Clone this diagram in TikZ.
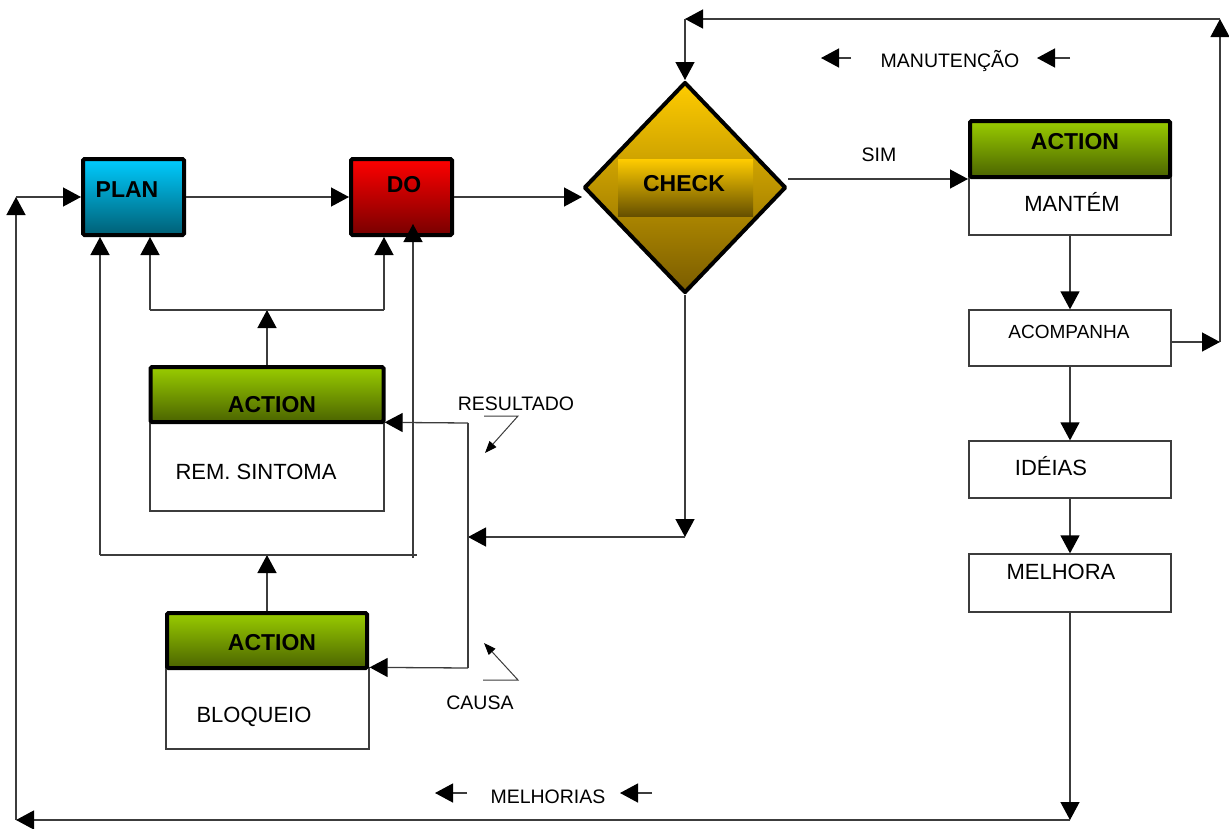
\documentclass[tikz,border=0pt]{standalone}
\usepackage{fontspec}
\setmainfont{Liberation Sans}
\usetikzlibrary{arrows.meta,shapes.geometric}
\definecolor{planTop}{HTML}{00CCFF}
\definecolor{planBot}{HTML}{005F75}
\definecolor{doTop}{HTML}{FF0000}
\definecolor{doBot}{HTML}{780000}
\definecolor{actTop}{HTML}{99CC00}
\definecolor{actBot}{HTML}{4B6400}
\definecolor{chkTop}{HTML}{FFCC00}
\definecolor{chkBot}{HTML}{7A5C00}
\definecolor{bandBot}{HTML}{665000}
\definecolor{wire}{HTML}{3C3C3C}
\begin{document}
\begin{tikzpicture}[x=1pt,y=-1pt,
  line/.style={draw=wire, line width=1.3pt},
  arr/.style={line, -{Triangle[length=18pt,width=19pt,color=black]}},
  ptr/.style={line, line width=1pt, -{Triangle[length=12pt,width=9pt,color=black]}},
  colbox/.style={draw=black, line width=4pt, rounded corners=1.5pt, inner sep=0pt},
  body/.style={draw=wire, line width=1.3pt, fill=white, inner sep=0pt},
  boldtxt/.style={font=\fontsize{23}{27}\selectfont\bfseries, inner sep=0pt},
  boxtxt/.style={font=\fontsize{22}{26}\selectfont, inner sep=0pt},
  smalltxt/.style={font=\fontsize{19.5}{23}\selectfont, inner sep=0pt}
]
\useasboundingbox (0,0) rectangle (1229,828);

% PLAN and DO
\node[colbox, top color=planTop, bottom color=planBot, minimum width=101pt, minimum height=76pt] (plan) at (133.5,197) {};
\node[boldtxt] (tplan) at (127,190) {PLAN};
\node[colbox, top color=doTop, bottom color=doBot, minimum width=101pt, minimum height=76pt] (do) at (401.5,197) {};
\node[boldtxt] (tdo) at (404,185) {DO};

% CHECK diamond
\node[diamond, draw=black, line width=4pt, line join=round, top color=chkTop, bottom color=chkBot,
      minimum width=202pt, minimum height=211pt, inner sep=0pt] (check) at (685,187.5) {};
\node[inner sep=0pt, minimum width=135pt, minimum height=57pt, top color=chkTop, bottom color=bandBot] (band) at (685.5,187.5) {};
\node[boldtxt] (tcheck) at (684,184) {CHECK};

% ACTION: keep result
\node[body, minimum width=202pt, minimum height=58pt] (mantem) at (1070,206) {};
\node[colbox, top color=actTop, bottom color=actBot, minimum width=200pt, minimum height=56pt] (act3h) at (1070,149) {};
\node[boldtxt] (tact3) at (1075,142) {ACTION};
\node[boxtxt] (tmantem) at (1072,202) {MANTÉM};

\node[body, minimum width=202pt, minimum height=56pt] (acomp) at (1070,338) {};
\node[font=\fontsize{19}{23}\selectfont, inner sep=0pt] (tacomp) at (1069,332) {ACOMPANHA};
\node[body, minimum width=202pt, minimum height=57pt] (ideias) at (1070,469.5) {};
\node[boxtxt] (tideias) at (1051,466) {IDÉIAS};
\node[body, minimum width=202pt, minimum height=58pt] (melhora) at (1070,583) {};
\node[boxtxt] (tmelhora) at (1061,572) {MELHORA};

% ACTION: remove symptom
\node[body, minimum width=234pt, minimum height=88pt] (act1b) at (267,467) {};
\node[colbox, top color=actTop, bottom color=actBot, minimum width=233pt, minimum height=55pt] (act1h) at (267,394.5) {};
\node[boldtxt] (tact1) at (272,405) {ACTION};
\node[boxtxt] (trem) at (256,472) {REM. SINTOMA};

% ACTION: block cause
\node[body, minimum width=203pt, minimum height=81pt] (act2b) at (267.5,708.5) {};
\node[colbox, top color=actTop, bottom color=actBot, minimum width=200pt, minimum height=55pt] (act2h) at (267,640.5) {};
\node[boldtxt] (tact2) at (272,643) {ACTION};
\node[boxtxt] (tbloq) at (254,717) {BLOQUEIO};

% labels
\node[smalltxt] (tsim) at (879,155) {SIM};
\node[smalltxt] (tmanut) at (950,61) {MANUTENÇÃO};
\node[smalltxt] (tmelh) at (548,797) {MELHORIAS};
\node[smalltxt] (tres) at (516,404) {RESULTADO};
\node[smalltxt] (tcausa) at (480,703) {CAUSA};

% routing points
\coordinate (cTL) at (16,197);
\coordinate (cBL) at (16,820);
\coordinate (cBR) at (1070,820);
\coordinate (cAR) at (1220,342);
\coordinate (cTR) at (1220,19);
\coordinate (cTC) at (685,19);
\coordinate (cFB) at (685,537);
\coordinate (cFL) at (468,537);
\coordinate (cF1) at (468,423);
\coordinate (cF2) at (468,668);
\coordinate (cS1) at (267,310);
\coordinate (cS1l) at (150,310);
\coordinate (cS1r) at (384,310);
\coordinate (cS2) at (267,555);
\coordinate (cS2l) at (100,555);
\coordinate (cS2r) at (417,555);
\coordinate (cD2) at (413,558);
\coordinate (cD2t) at (413,224);

% main flow
\draw[arr] (plan) -- (do);
\draw[arr] (do.east) -- (do.east -| check.west);
\draw[arr] (check.east |- act3h.south) -- (act3h.south west);
\draw[arr] (mantem) -- (acomp);
\draw[arr] (acomp) -- (ideias);
\draw[arr] (ideias) -- (melhora);

% improvement loop
\draw[arr] (melhora) -- (cBR);
\draw[arr] (cBR) -- (cBL);
\draw[arr] (cBL) -- (cTL);
\draw[arr] (cTL) -- (plan);

% maintenance loop
\draw[arr] (acomp.east |- cAR) -- (cAR);
\draw[arr] (cAR) -- (cTR);
\draw[arr] (cTR) -- (cTC);
\draw[arr] (cTC) -- (check);

% corrective branch
\draw[arr] (check) -- (cFB);
\draw[arr] (cFB) -- (cFL);
\draw[arr] (cF1) -- (act1b.north east);
\draw[line] (cF1) -- (cF2);
\draw[arr] (cF2) -- (act2b.north east);

\draw[arr] (act1h) -- (cS1);
\draw[line] (cS1l) -- (cS1r);
\draw[arr] (cS1l) -- (cS1l |- plan.south);
\draw[arr] (cS1r) -- (cS1r |- do.south);

\draw[arr] (act2h) -- (cS2);
\draw[line] (cS2l) -- (cS2r);
\draw[arr] (cS2l) -- (cS2l |- plan.south);
\draw[arr] (cD2) -- (cD2t);

% pointers for RESULTADO and CAUSA
\coordinate (rA) at (484,416);
\coordinate (rB) at (518,416);
\coordinate (rC) at (485,453);
\draw[ptr] (rA) -- (rB) -- (rC);
\coordinate (kA) at (483,680);
\coordinate (kB) at (518,680);
\coordinate (kC) at (484,643);
\draw[ptr] (kA) -- (kB) -- (kC);

% direction marks beside the loop labels
\coordinate (mA1) at (851,58);
\coordinate (mA2) at (821,58);
\coordinate (mB1) at (1070,58);
\coordinate (mB2) at (1037,58);
\draw[arr] (mA1) -- (mA2);
\draw[arr] (mB1) -- (mB2);
\coordinate (nA1) at (467,793);
\coordinate (nA2) at (435,793);
\coordinate (nB1) at (652,793);
\coordinate (nB2) at (620,793);
\draw[arr] (nA1) -- (nA2);
\draw[arr] (nB1) -- (nB2);
\end{tikzpicture}
\end{document}
